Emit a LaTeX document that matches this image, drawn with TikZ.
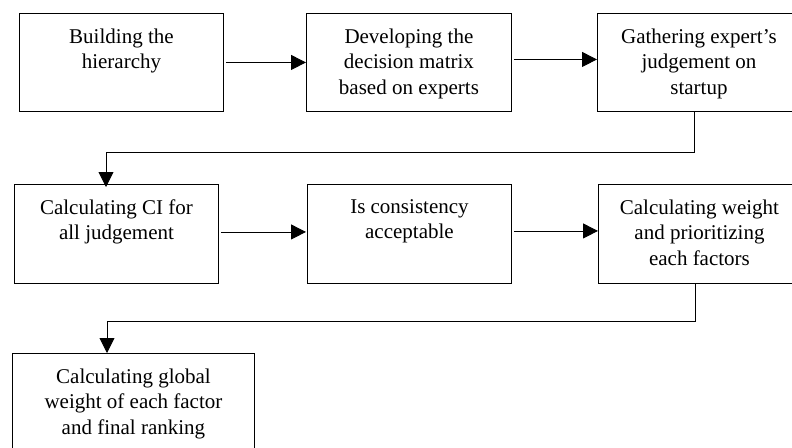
\documentclass[tikz,border=0pt]{standalone}
\usepackage{fontspec}
\setmainfont{Liberation Serif}
\usetikzlibrary{arrows.meta,calc}
\tikzset{
  box/.style={draw, line width=0.9pt, inner sep=0pt, anchor=north west, font=\fontsize{21}{25.5}\selectfont},
  arr/.style={line width=0.9pt, -{Triangle[length=15pt,width=15pt]}}
}
\newcommand{\boxtext}[3]{\parbox[c][#2pt][t]{#1pt}{\centering\vspace{15pt}#3\par}}
\begin{document}
\begin{tikzpicture}[x=1pt,y=-1pt]
\clip (0,0) rectangle (792,447);
\useasboundingbox (0,0) rectangle (792,447);
\node[box] (b1) at (19,13) {\boxtext{204}{98}{Building the\\hierarchy}};
\node[box] (b2) at (306,13) {\boxtext{205}{98}{Developing the\\decision matrix\\based on experts}};
\node[box] (b3) at (597,13) {\boxtext{203}{98}{Gathering expert’s\\judgement on\\startup}};
\node[box] (b4) at (14,184) {\boxtext{204}{99}{Calculating CI for\\all judgement}};
\node[box] (b5) at (307,184) {\boxtext{204}{99}{Is consistency\\acceptable}};
\node[box] (b6) at (598,184) {\boxtext{202}{99}{Calculating weight\\and prioritizing\\each factors}};
\node[box] (b7) at (12,353) {\boxtext{242}{110}{Calculating global\\weight of each factor\\and final ranking}};
\coordinate (m1) at (0,152);
\coordinate (m2) at (0,321);
\draw[arr] ([xshift=2pt]b1.east) -- (b2.west);
\draw[arr] ([xshift=2pt,yshift=3pt]b2.east) -- ([yshift=3pt]b3.west);
\draw[arr] ([xshift=2pt,yshift=2pt]b4.east) -- ([xshift=-1pt,yshift=2pt]b5.west);
\draw[arr] ([xshift=2pt,yshift=3pt]b5.east) -- ([yshift=3pt]b6.west);
\draw[arr] ([xshift=97pt]b3.south west) -- ([xshift=97pt]b3.south west |- m1) -| ([xshift=92pt,yshift=-3pt]b4.north west);
\draw[arr] ([xshift=97pt]b6.south west) -- ([xshift=97pt]b6.south west |- m2) -| ([xshift=95pt]b7.north west);
\end{tikzpicture}
\end{document}
